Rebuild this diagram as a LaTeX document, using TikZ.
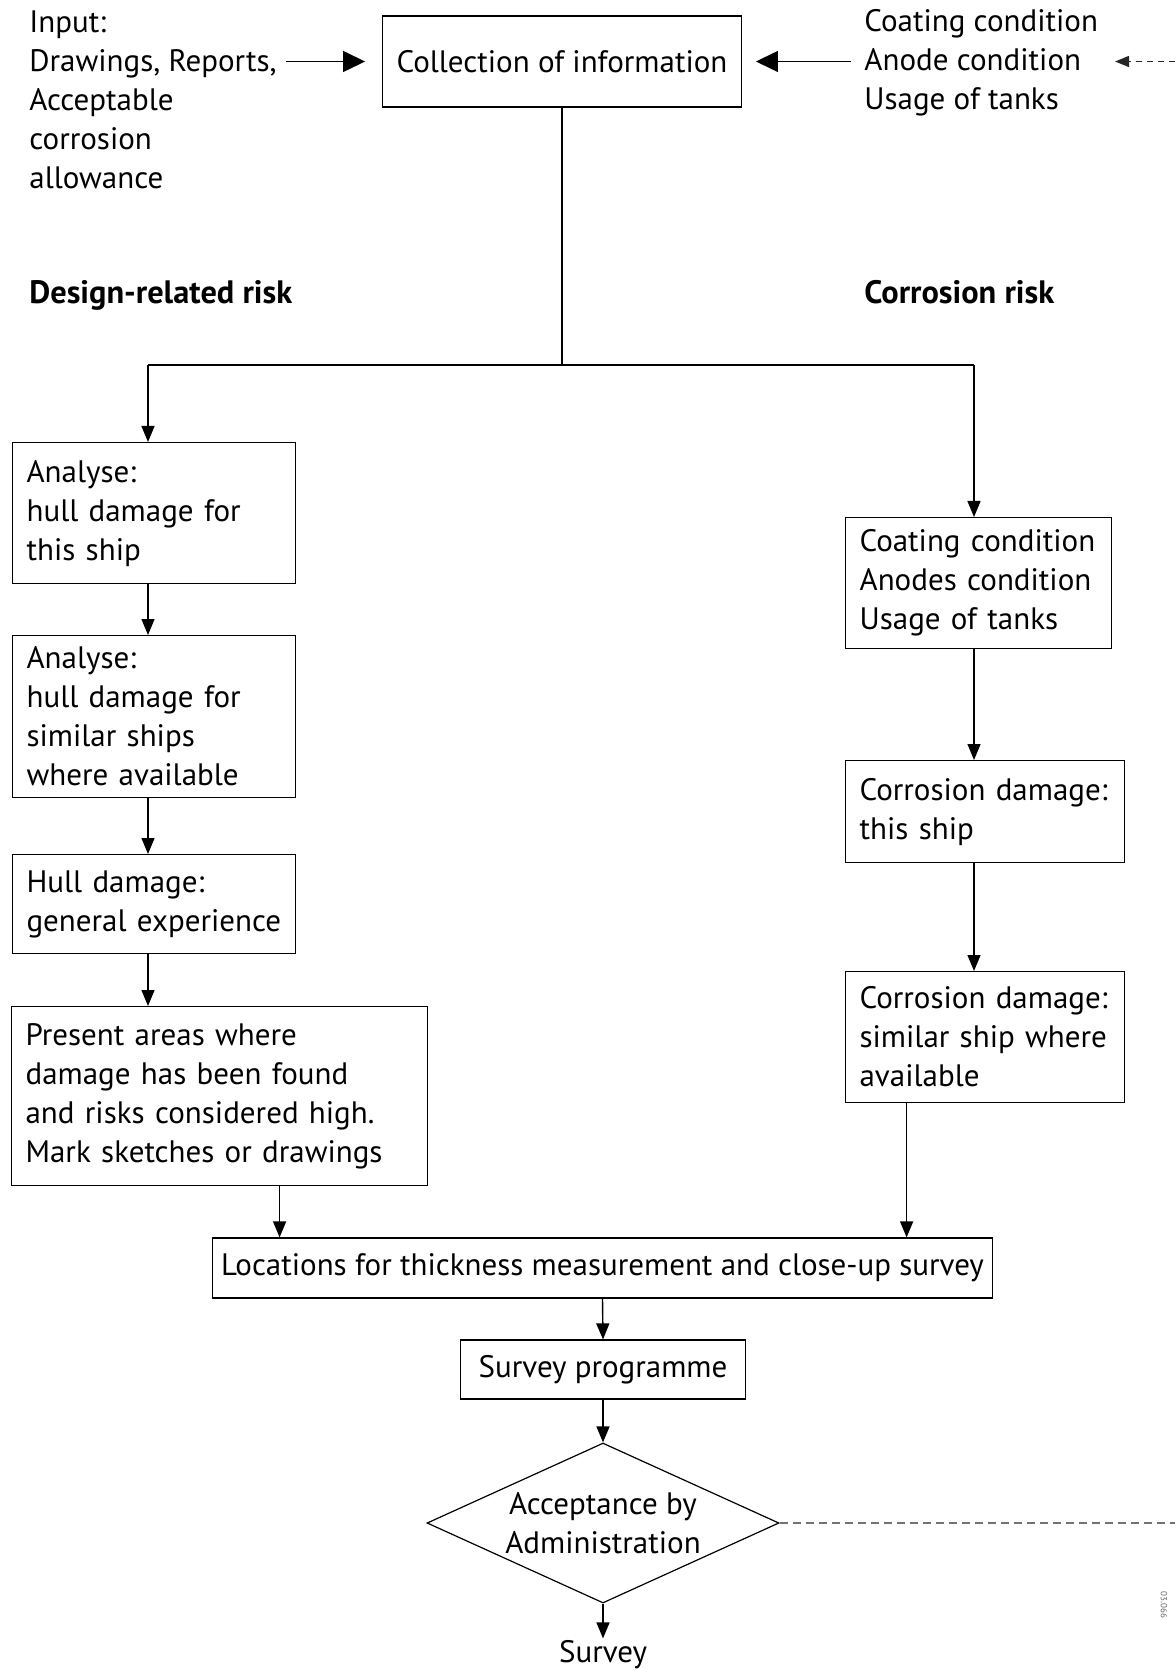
\documentclass[tikz,border=0pt]{standalone}
\usepackage{fontspec}
\setmainfont{PT Sans}
\usetikzlibrary{shapes.geometric,arrows.meta}
\begin{document}
\begin{tikzpicture}[
    x=0.5pt, y=-0.5pt,
    font=\fontsize{15.5}{19.5}\selectfont,
    box/.style={rectangle, draw, line width=0.6pt, inner xsep=7pt, inner ysep=0pt, align=left},
    txt/.style={align=left, inner sep=0pt, anchor=west},
    riskhead/.style={inner sep=0pt, anchor=base west, font=\fontsize{16.2}{20}\selectfont\bfseries},
    decide/.style={diamond, draw, line width=0.6pt, aspect=2.2, inner sep=0pt, minimum width=176pt, minimum height=80pt, align=center},
    arrow/.style={-{Triangle[length=8pt, width=6.5pt]}, line width=0.7pt},
    bigarrow/.style={-{Triangle[length=11pt, width=10.5pt]}, line width=0.7pt},
    dasharrow/.style={-{Triangle[length=7pt, width=5.5pt]}, dash pattern=on 3pt off 2.5pt, line width=0.7pt, black!85},
    gapline/.style={dash pattern=on 4pt off 2.5pt, line width=0.6pt, black!55}
]
    \useasboundingbox (0,0) rectangle (1175,1673);

    \node[box, minimum width=179pt, minimum height=45.5pt] (coll) at (562,61.5) {Collection of information};
    \node[txt] (input) at (29,100) {Input:\\Drawings, Reports,\\Acceptable\\corrosion\\allowance};
    \node[txt] (cond) at (864,63) {Coating condition\\Anode condition\\Usage of tanks};
    \node[riskhead] (design) at (29,304) {Design-related risk};
    \node[riskhead] (corrisk) at (864,304) {Corrosion risk};

    \node[box, anchor=north west, text width=127.5pt, minimum height=70.5pt] (hull1) at (12,442) {Analyse:\\hull damage for\\this ship};
    \node[box, anchor=north west, text width=127.5pt, minimum height=81pt] (hull2) at (12,635) {Analyse:\\hull damage for\\similar ships\\where available};
    \node[box, anchor=north west, text width=127.5pt, minimum height=49.5pt] (hullexp) at (12,854) {Hull damage:\\general experience};
    \node[box, anchor=north west, text width=194pt, minimum height=89.5pt] (present) at (11,1006) {Present areas where\\damage has been found\\and risks considered high.\\Mark sketches or drawings};

    \node[box, anchor=north west, text width=119pt, minimum height=65.5pt] (coat) at (845,517) {Coating condition\\Anodes condition\\Usage of tanks};
    \node[box, anchor=north west, text width=125.5pt, minimum height=51pt] (corr1) at (845,760) {Corrosion damage:\\this ship};
    \node[box, anchor=north west, text width=125.5pt, minimum height=65.5pt] (corr2) at (845,971) {Corrosion damage:\\similar ship where\\available};

    \node[box, inner xsep=4.5pt, minimum width=387.5pt, minimum height=30pt] (loc) at (602.5,1268) {Locations for thickness measurement and close-up survey};
    \node[box, minimum width=142.5pt, minimum height=29.5pt] (prog) at (603,1369.5) {Survey programme};
    \node[decide] (accept) at (603,1523) {Acceptance by\\Administration};
    \node[inner sep=1pt] (survey) at (603,1655) {Survey};
    \node[rotate=-90, inner sep=0pt, font=\fontsize{4.5}{5}\selectfont, text=black!60] (code) at (1164,1605) {03.066};

    \coordinate (inpt) at (286,61.5);
    \coordinate (condpt) at (851,61.5);
    \coordinate (feed) at (1175,61.5);
    \coordinate (feedtip) at (1115,61.5);
    \coordinate (sl) at (148,365);
    \coordinate (sr) at (974,365);
    \coordinate (rim) at (1175,1523);

    \draw[bigarrow] (inpt) -- ([xshift=-8.5pt]coll.west);
    \draw[bigarrow] (condpt) -- ([xshift=7pt]coll.east);
    \draw[dasharrow] (feed) -- (feedtip);
    \draw[line width=0.6pt] (coll.south) -- (coll.south |- sl);
    \draw[line width=0.6pt] (sl) -- (sr);
    \draw[arrow] (sl) -- (sl |- hull1.north);
    \draw[arrow] (sl |- hull1.south) -- (sl |- hull2.north);
    \draw[arrow] (sl |- hull2.south) -- (sl |- hullexp.north);
    \draw[arrow] (sl |- hullexp.south) -- (sl |- present.north);
    \draw[arrow] (sr) -- (sr |- coat.north);
    \draw[arrow] (sr |- coat.south) -- (sr |- corr1.north);
    \draw[arrow] (sr |- corr1.south) -- (sr |- corr2.north);
    \draw[arrow] ([xshift=30pt]present.south) -- ([xshift=30pt]present.south |- loc.north);
    \draw[arrow] ([xshift=-39.25pt]corr2.south) -- ([xshift=-39.25pt]corr2.south |- loc.north);
    \draw[arrow] (loc.south) -- (prog.north);
    \draw[arrow] (prog.south) -- (accept.north);
    \draw[arrow] (accept.south) -- (survey.north);
    \draw[gapline] (accept.east) -- (rim);
\end{tikzpicture}
\end{document}
